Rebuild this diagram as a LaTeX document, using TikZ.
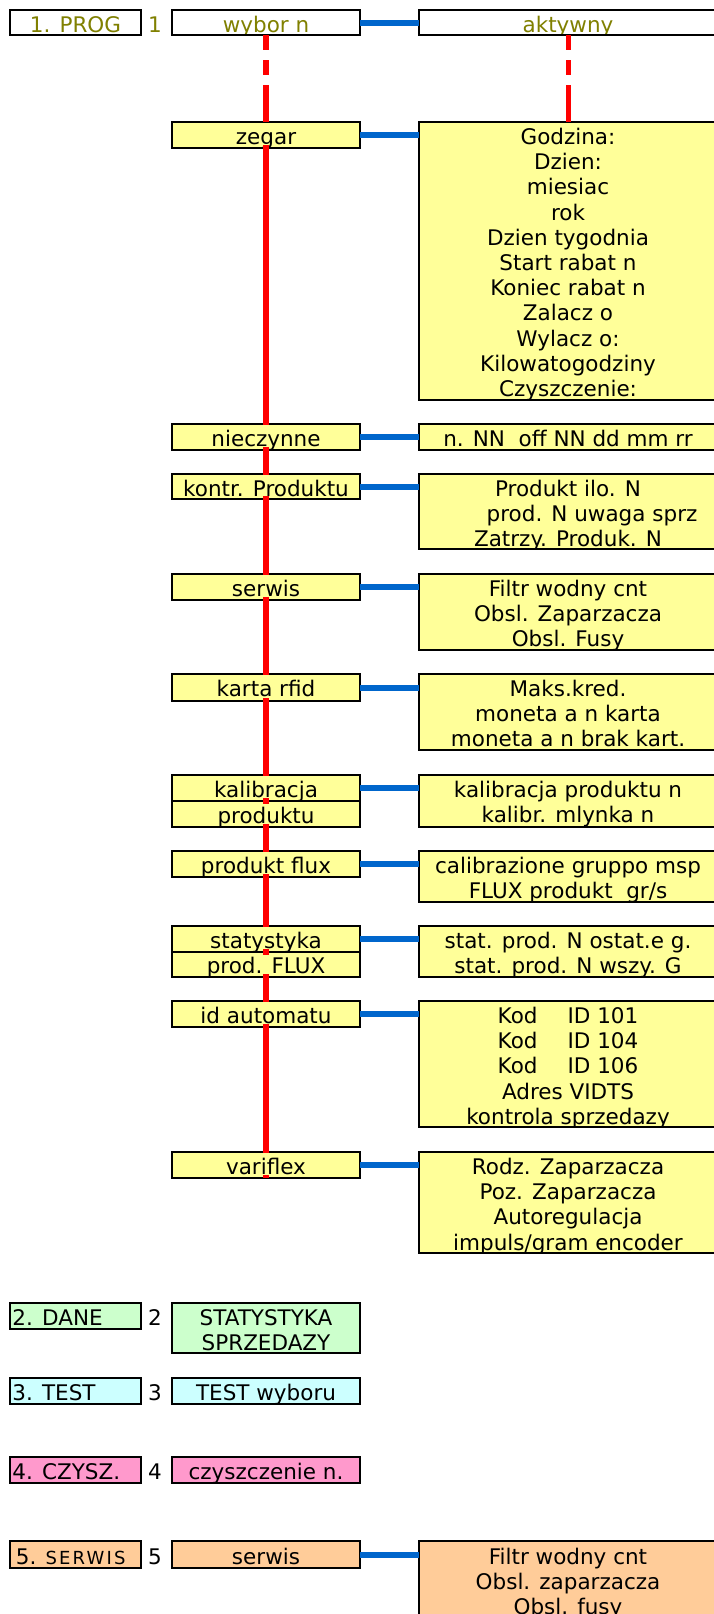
\documentclass[tikz,border=0pt]{standalone}
\usepackage{fontspec}
\setmainfont{DejaVu Sans}
\definecolor{ylw}{HTML}{FFFF99}
\definecolor{grn}{HTML}{CCFFCC}
\definecolor{cyn}{HTML}{CCFFFF}
\definecolor{pnk}{HTML}{FF99CC}
\definecolor{org}{HTML}{FFCC99}
\definecolor{olv}{HTML}{808000}
\definecolor{bln}{HTML}{0066CC}
\definecolor{rdl}{HTML}{FF0000}
\tikzset{
 bxs/.style={draw=black, line width=2.8pt, inner sep=0pt, outer sep=0pt, rectangle},
 txt/.style={inner sep=0pt, outer sep=0pt, font=\fontsize{21.5}{25.2}\selectfont},
 redl/.style={draw=rdl, line width=5.8pt, shorten <=-3pt, shorten >=-1pt},
 redt/.style={draw=rdl, line width=5.8pt},
 redd/.style={draw=rdl, line width=5.8pt, dash pattern=on 15pt off 10pt on 15pt off 10pt on 200pt},
 bluel/.style={draw=bln, line width=6pt},
}
\newcommand\mkbox[6]{\node[bxs, fill=#2, minimum width={(#5-#3)*1pt}, minimum height={(#6-#4)*1pt}, anchor=north west] (#1) at (#3,#4) {};}
\newcommand\mktext[5]{%
 \begin{scope}
 \clip ([shift={(1.4pt,-1.4pt)}]#1.north west) rectangle ([shift={(-1.4pt,1.4pt)}]#1.south east);
 \foreach \t [count=\i from 0] in {#5} {\node[txt,#4] at (#2,{#3+\i*25.2}) {\t};}
 \end{scope}}
\begin{document}
\begin{tikzpicture}[x=1pt,y=-1pt]
\useasboundingbox (0,0) rectangle (714,1614);
\fill[white] (0,0) rectangle (714,1614);
% top row
\mkbox{p1}{white}{10}{10}{141}{35}
\mkbox{w1}{white}{172}{10}{360}{35}
\mkbox{a1}{white}{419}{10}{718}{35}
\mktext{p1}{75.5}{32.5}{anchor=base,text=olv}{1. PROG}
\node[txt,anchor=base,text=olv] (n1) at (155,32.5) {1};
\mktext{w1}{266}{32.5}{anchor=base,text=olv}{wybor n}
\mktext{a1}{568}{32.5}{anchor=base,text=olv}{aktywny}
% yellow section
\mkbox{zeg}{ylw}{172}{122}{360}{148}
\mkbox{rzeg}{ylw}{419}{122}{718}{400}
\mktext{zeg}{266}{144.5}{anchor=base}{zegar}
\mktext{rzeg}{568}{144.5}{anchor=base}{Godzina:, Dzien:, miesiac, rok, Dzien tygodnia, Start rabat n, Koniec rabat n, Zalacz o, Wylacz o:, Kilowatogodziny, Czyszczenie:}
\mkbox{nie}{ylw}{172}{424}{360}{450}
\mkbox{rnie}{ylw}{419}{424}{718}{450}
\mktext{nie}{266}{446.5}{anchor=base}{nieczynne}
\mktext{rnie}{568}{446.5}{anchor=base}{n. NN\ \ off NN dd mm rr}
\mkbox{kon}{ylw}{172}{474}{360}{499}
\mkbox{rkon}{ylw}{419}{474}{718}{549}
\mktext{kon}{266}{496.5}{anchor=base}{kontr. Produktu}
\mktext{rkon}{568}{496.5}{anchor=base}{Produkt ilo. N, \hspace*{48pt}prod. N uwaga sprz, Zatrzy. Produk. N}
\mkbox{ser}{ylw}{172}{574}{360}{600}
\mkbox{rser}{ylw}{419}{574}{718}{650}
\mktext{ser}{266}{596.5}{anchor=base}{serwis}
\mktext{rser}{568}{596.5}{anchor=base}{Filtr wodny cnt, Obsl. Zaparzacza, Obsl. Fusy}
\mkbox{kar}{ylw}{172}{674}{360}{701}
\mkbox{rkar}{ylw}{419}{674}{718}{750}
\mktext{kar}{266}{696.5}{anchor=base}{karta rfid}
\mktext{rkar}{568}{696.5}{anchor=base}{Maks.kred., moneta a n karta, moneta a n brak kart.}
\mkbox{kal}{ylw}{172}{775}{360}{801}
\mkbox{pro}{ylw}{172}{801}{360}{827}
\mkbox{rkal}{ylw}{419}{775}{718}{827}
\mktext{kal}{266}{797.5}{anchor=base}{kalibracja}
\mktext{pro}{266}{823.5}{anchor=base}{produktu}
\mktext{rkal}{568}{797.5}{anchor=base}{kalibracja produktu n, kalibr. mlynka n}
\mkbox{flx}{ylw}{172}{851}{360}{877}
\mkbox{rflx}{ylw}{419}{851}{718}{902}
\mktext{flx}{266}{873.5}{anchor=base}{produkt flux}
\mktext{rflx}{568}{873.5}{anchor=base}{calibrazione gruppo msp, {FLUX produkt\ \ gr/s}}
\mkbox{sta}{ylw}{172}{926}{360}{952}
\mkbox{pfl}{ylw}{172}{952}{360}{977}
\mkbox{rsta}{ylw}{419}{926}{718}{977}
\mktext{sta}{266}{948.5}{anchor=base}{statystyka}
\mktext{pfl}{266}{973.5}{anchor=base}{prod. FLUX}
\mktext{rsta}{568}{948.5}{anchor=base}{stat. prod. N ostat.e g., stat. prod. N wszy. G}
\mkbox{ida}{ylw}{172}{1001}{360}{1027}
\mkbox{rida}{ylw}{419}{1001}{718}{1127}
\mktext{ida}{266}{1023.5}{anchor=base}{id automatu}
\mktext{rida}{568}{1023.5}{anchor=base}{Kod\hspace{30pt}ID 101, Kod\hspace{30pt}ID 104, Kod\hspace{30pt}ID 106, Adres VIDTS, kontrola sprzedazy}
\mkbox{var}{ylw}{172}{1152}{360}{1178}
\mkbox{rvar}{ylw}{419}{1152}{718}{1253}
\mktext{var}{266}{1174.5}{anchor=base}{variflex}
\mktext{rvar}{568}{1174.5}{anchor=base}{Rodz. Zaparzacza, Poz. Zaparzacza, Autoregulacja, {impuls/gram encoder}}
% lower section
\mkbox{p2}{grn}{10}{1303}{141}{1329}
\mkbox{s2}{grn}{172}{1303}{360}{1353}
\mktext{p2}{12.5}{1325.5}{anchor=base west}{2. DANE}
\node[txt,anchor=base] (n2) at (155,1325.5) {2};
\mktext{s2}{266}{1325.5}{anchor=base}{STATYSTYKA, SPRZEDAZY}
\mkbox{p3}{cyn}{10}{1378}{141}{1404}
\mkbox{s3}{cyn}{172}{1378}{360}{1404}
\mktext{p3}{12.5}{1400.5}{anchor=base west}{3. TEST}
\node[txt,anchor=base] (n3) at (155,1400.5) {3};
\mktext{s3}{266}{1400.5}{anchor=base}{TEST wyboru}
\mkbox{p4}{pnk}{10}{1457}{141}{1483}
\mkbox{s4}{pnk}{172}{1457}{360}{1483}
\mktext{p4}{12.5}{1479.5}{anchor=base west}{4. CZYSZ.}
\node[txt,anchor=base] (n4) at (155,1479.5) {4};
\mktext{s4}{266}{1479.5}{anchor=base}{czyszczenie n.}
\mkbox{p5}{org}{10}{1541}{141}{1568}
\mkbox{s5}{org}{172}{1541}{360}{1568}
\mkbox{r5}{org}{419}{1541}{718}{1622}
\mktext{p5}{16}{1564}{anchor=base west}{5. {\fontsize{18}{20}\selectfont\addfontfeature{LetterSpace=12}SERWIS}}
\node[txt,anchor=base] (n5) at (155,1564) {5};
\mktext{s5}{266}{1564}{anchor=base}{serwis}
\mktext{r5}{568}{1564}{anchor=base}{Filtr wodny cnt, Obsl. zaparzacza, Obsl. fusy}
% red connectors
\draw[redd] (w1.south) -- (zeg.north);
\draw[redd] (a1.south) -- (rzeg.north);
\draw[redl] (zeg.south) -- (nie.north);
\draw[redl] (nie.south) -- (kon.north);
\draw[redl] (kon.south) -- (ser.north);
\draw[redl] (ser.south) -- (kar.north);
\draw[redl] (kar.south) -- (kal.north);
\draw[redt] ([yshift=3pt]kal.south) -- ([yshift=-3pt]pro.north);
\draw[redl] (pro.south) -- (flx.north);
\draw[redl] (flx.south) -- (sta.north);
\draw[redt] ([yshift=3pt]sta.south) -- ([yshift=-3pt]pfl.north);
\draw[redl] (pfl.south) -- (ida.north);
\draw[redl] (ida.south) -- (var.north);
\draw[redt] ([yshift=3pt]var.south) -- (var.south);
% blue connectors
\draw[bluel] (w1.east) -- (a1.west);
\draw[bluel] (zeg.east) -- (zeg.east -| rzeg.west);
\draw[bluel] (nie.east) -- (nie.east -| rnie.west);
\draw[bluel] (kon.east) -- (kon.east -| rkon.west);
\draw[bluel] (ser.east) -- (ser.east -| rser.west);
\draw[bluel] (kar.east) -- (kar.east -| rkar.west);
\draw[bluel] (kal.east) -- (kal.east -| rkal.west);
\draw[bluel] (flx.east) -- (flx.east -| rflx.west);
\draw[bluel] (sta.east) -- (sta.east -| rsta.west);
\draw[bluel] (ida.east) -- (ida.east -| rida.west);
\draw[bluel] (var.east) -- (var.east -| rvar.west);
\draw[bluel] (s5.east) -- (s5.east -| r5.west);
\end{tikzpicture}
\end{document}
